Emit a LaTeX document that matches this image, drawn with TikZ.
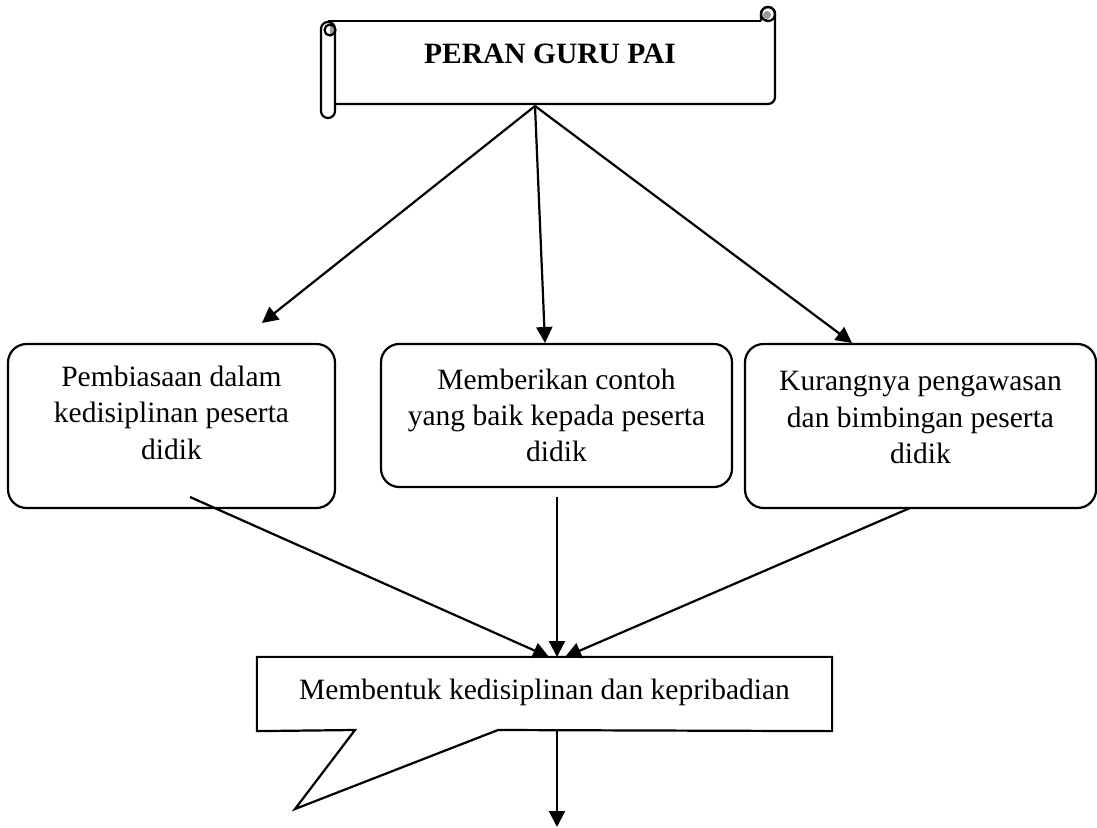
\documentclass[tikz,border=0pt]{standalone}
\usepackage{fontspec}
\setmainfont{Liberation Serif}
\usetikzlibrary{arrows.meta}

\begin{document}
\begin{tikzpicture}[x=0.4068pt,y=-0.4068pt, line width=0.9pt,
  font=\fontsize{12}{14.8}\selectfont,
  conn/.style={-{Triangle[length=6.5pt,width=6.5pt]}},
  rbox/.style={draw, rounded corners=7.5pt, align=center, inner sep=0pt}]
\useasboundingbox (0,0) rectangle (1097,828);
% scroll: body and right roll
\draw (328,21) -- (761,21);
\draw (761,21) -- (761,14) arc[start angle=180, end angle=360, radius=7]
  -- (775,97) arc[start angle=0, end angle=90, radius=7] -- (335,104);
\fill[black!40] (767,15) circle (4);
\draw (768,14) circle (7);
\draw (766,19) -- (766,21);
% scroll: left roll
\filldraw[fill=white] (321,29) arc[start angle=180, end angle=360, radius=7]
  -- (335,111) arc[start angle=0, end angle=180, radius=7] -- cycle;
\fill[black!40] (330,24.5) arc[start angle=270, end angle=450, radius=5.5] -- cycle;
\draw (330,30) circle (5.5);
\node[font=\fontsize{12}{14.8}\selectfont\bfseries] (title) at (550,54) {PERAN GURU PAI};
\coordinate (src) at (535,106);

% three roles
\node[rbox, minimum width=133pt, minimum height=66.7pt, text depth=11pt] (b1) at (171.5,426)
  {Pembiasaan dalam\\kedisiplinan peserta\\didik};
\node[rbox, minimum width=142.8pt, minimum height=58.2pt] (b2) at (556.5,415.5)
  {Memberikan contoh\\yang baik kepada peserta\\didik};
\node[rbox, minimum width=142.8pt, minimum height=66.7pt, text depth=7pt] (b3) at (920.5,426)
  {Kurangnya pengawasan\\dan bimbingan peserta\\didik};

% callout
\node[minimum width=233.1pt, minimum height=29.3pt, inner sep=0pt, text depth=4pt] (goal) at (544.5,694)
  {Membentuk kedisiplinan dan kepribadian};
\draw (goal.north west) -- (goal.north east) -- (goal.south east) -- (498,730)
  -- (295,809) -- (355,730) -- (goal.south west) -- cycle;

\coordinate (e1) at (262,323);
\coordinate (e2) at (545,343);
\coordinate (e3) at (852,343);
\coordinate (s1) at (190,497);
\coordinate (s2) at (557,497);
\coordinate (s3) at (910,508);
\coordinate (g1) at (549,657);
\coordinate (g2) at (557,657);
\coordinate (g3) at (565,657);
\coordinate (out) at (557,827);

\draw[conn] (src) -- (e1);
\draw[conn] (src) -- (e2);
\draw[conn] (src) -- (e3);
\draw[conn] (s1) -- (g1);
\draw[conn] (s2) -- (g2);
\draw[conn] (s3) -- (g3);
\draw[conn] (goal.south -| out) -- (out);
\end{tikzpicture}
\end{document}
